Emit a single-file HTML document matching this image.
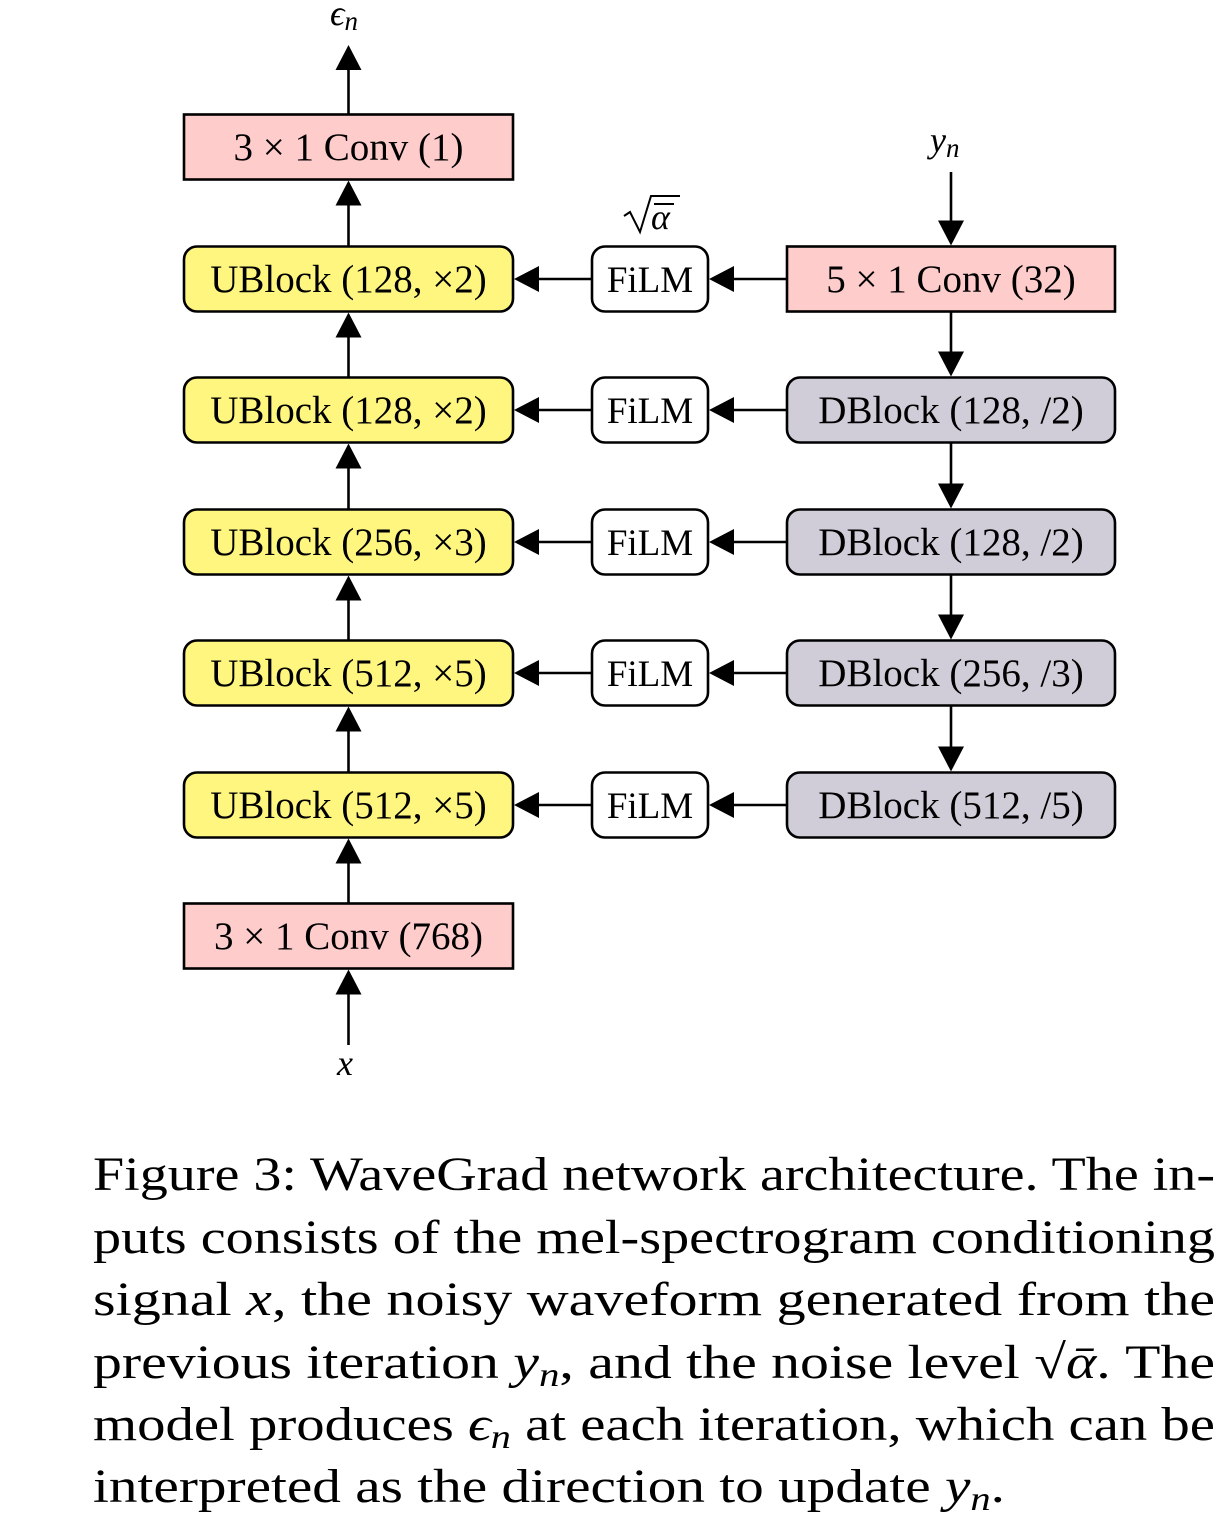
<!DOCTYPE html>
<html><head><meta charset="utf-8"><style>
html,body{margin:0;padding:0;background:#fff;}
svg{display:block;}
text{font-family:"Liberation Serif",serif;fill:#000;}
</style></head><body>
<svg id="fig" width="1218" height="1532" viewBox="0 0 1218 1532" xmlns="http://www.w3.org/2000/svg">
<g id="boxes"></g>
<g id="arrows"></g>
<g>
<text x="330" y="25" font-size="36" font-style="italic">ϵ<tspan font-size="27" dy="5">n</tspan></text>
<text x="930" y="152" font-size="36" font-style="italic">y<tspan font-size="27" dy="5">n</tspan></text>
<text x="337" y="1075" font-size="36" font-style="italic">x</text>
<g>
<path d="M624 216 L630 212 L640 232 L651 196 L680 196" fill="none" stroke="#000" stroke-width="2"/>
<line x1="654" y1="204" x2="674" y2="204" stroke="#000" stroke-width="2"/>
<text x="651" y="229" font-size="36" font-style="italic">α</text>
</g>
</g>
<g font-size="48">
<text x="93" y="1190" textLength="1122" lengthAdjust="spacingAndGlyphs">Figure 3: WaveGrad network architecture. The in-</text>
<text x="93" y="1253" textLength="1122" lengthAdjust="spacingAndGlyphs">puts consists of the mel-spectrogram conditioning</text>
<text x="93" y="1315" textLength="1122" lengthAdjust="spacingAndGlyphs">signal <tspan font-style="italic">x</tspan>, the noisy waveform generated from the</text>
<text x="93" y="1378" textLength="1122" lengthAdjust="spacingAndGlyphs">previous iteration <tspan font-style="italic">y</tspan><tspan font-style="italic" font-size="34" dy="8">n</tspan><tspan dy="-8">, and the noise level √</tspan><tspan font-style="italic">ᾱ</tspan>. The</text>
<text x="93" y="1440" textLength="1122" lengthAdjust="spacingAndGlyphs">model produces <tspan font-style="italic">ϵ</tspan><tspan font-style="italic" font-size="34" dy="8">n</tspan><tspan dy="-8"> at each iteration, which can be</tspan></text>
<text x="93" y="1502" textLength="912" lengthAdjust="spacingAndGlyphs">interpreted as the direction to update <tspan font-style="italic">y</tspan><tspan font-style="italic" font-size="34" dy="8">n</tspan><tspan dy="-8">.</tspan></text>
</g>
</svg>
<script>
const uLabels = ["UBlock (128, ×2)","UBlock (128, ×2)","UBlock (256, ×3)","UBlock (512, ×5)","UBlock (512, ×5)"];
const dLabels = ["5 × 1 Conv (32)","DBlock (128, /2)","DBlock (128, /2)","DBlock (256, /3)","DBlock (512, /5)"];
const topConv = "3 × 1 Conv (1)";
const bottomConv = "3 × 1 Conv (768)";
const rowY = [279,410,542,673,805];
const topY = 147, botY = 936, H = 65;
const LX = 184, LW = 329, FX = 592, FW = 116, RX = 787, RW = 328;
const NS = "http://www.w3.org/2000/svg";
const boxes = document.getElementById('boxes');
const arrows = document.getElementById('arrows');
function box(x,cy,w,fill,rounded,label,name,fs){
  const g=document.createElementNS(NS,'g');
  
  
  const r=document.createElementNS(NS,'rect');
  r.setAttribute('x',x);r.setAttribute('y',cy-H/2);r.setAttribute('width',w);r.setAttribute('height',H);
  if(rounded){r.setAttribute('rx',13);}
  r.setAttribute('fill',fill);r.setAttribute('stroke','#000');r.setAttribute('stroke-width',2.6);
  g.appendChild(r);
  const t=document.createElementNS(NS,'text');
  t.setAttribute('x',x+w/2);t.setAttribute('y',cy+13);t.setAttribute('text-anchor','middle');t.setAttribute('font-size',fs||39);
  t.textContent=label;g.appendChild(t);
  boxes.appendChild(g);
}
function arrow(x1,y1,x2,y2,name){
  const g=document.createElementNS(NS,'g');
  
  
  const dx=x2-x1, dy=y2-y1, L=Math.hypot(dx,dy), ux=dx/L, uy=dy/L, hl=25, hw=13;
  const bx=x2-ux*hl, by=y2-uy*hl;
  const l=document.createElementNS(NS,'line');
  l.setAttribute('x1',x1);l.setAttribute('y1',y1);l.setAttribute('x2',bx);l.setAttribute('y2',by);
  l.setAttribute('stroke','#000');l.setAttribute('stroke-width',2.6);g.appendChild(l);
  const p=document.createElementNS(NS,'polygon');
  p.setAttribute('points',`${x2},${y2} ${bx-uy*hw},${by+ux*hw} ${bx+uy*hw},${by-ux*hw}`);
  g.appendChild(p);
  arrows.appendChild(g);
}
box(LX,topY,LW,'#ffcccc',false,topConv,'top-conv-block');
box(LX,botY,LW,'#ffcccc',false,bottomConv,'bottom-conv-block');
const lc = LX+LW/2, rc = RX+RW/2;
uLabels.forEach((lab,i)=>{
  box(LX,rowY[i],LW,'#fff680',true,lab,'ublock-'+(i+1));
  box(FX,rowY[i],FW,'#ffffff',true,'FiLM','film-'+(i+1),37);
  box(RX,rowY[i],RW,i===0?'#ffcccc':'#d0ccd8',i!==0,dLabels[i],i===0?'input-conv-block':'dblock-'+i);
  arrow(RX,rowY[i],FX+FW+1,rowY[i],'arrow-to-film-'+(i+1));
  arrow(FX,rowY[i],LX+LW+1,rowY[i],'arrow-to-ublock-'+(i+1));
});
const leftYs=[botY].concat(rowY.slice().reverse()).concat([topY]);
for(let i=0;i<leftYs.length-1;i++){
  arrow(lc,leftYs[i]-H/2,lc,leftYs[i+1]+H/2+1,'up-arrow-'+(i+1));
}
for(let i=0;i<rowY.length-1;i++){
  arrow(rc,rowY[i]+H/2,rc,rowY[i+1]-H/2-1,'down-arrow-'+(i+1));
}
arrow(lc,topY-H/2,lc,45,'output-arrow');
arrow(lc,1045,lc,botY+H/2+1,'x-input-arrow');
arrow(rc,172,rc,rowY[0]-H/2-1,'y-input-arrow');
</script>
</body></html>
